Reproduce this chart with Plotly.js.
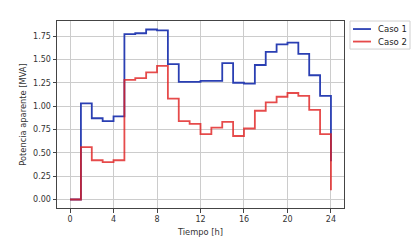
<!DOCTYPE html>
<html>
<head>
<meta charset="utf-8">
<script src="https://cdn.plot.ly/plotly-3.0.1.min.js"></script>
<style>html,body{margin:0;padding:0;background:#fff;}#chart{width:419px;height:250px;}</style>
</head>
<body>
<div id="chart"></div>
<script>
const horas = [0,1,2,3,4,5,6,7,8,9,10,11,12,13,14,15,16,17,18,19,20,21,22,23,24];
const caso1 = [0.00,1.03,0.87,0.84,0.89,1.77,1.78,1.82,1.81,1.45,1.26,1.26,1.27,1.27,1.46,1.25,1.24,1.44,1.58,1.66,1.68,1.56,1.33,1.11,0.41];
const caso2 = [0.00,0.56,0.42,0.40,0.42,1.28,1.30,1.36,1.43,1.08,0.84,0.81,0.70,0.77,0.83,0.68,0.76,0.95,1.04,1.10,1.14,1.11,0.96,0.70,0.10];
const seriesNames = ['Caso 1', 'Caso 2'];
const xTicks = [0,4,8,12,16,20,24];
const yTicks = [0,0.25,0.5,0.75,1.0,1.25,1.5,1.75];
const yTickText = ["0.00","0.25","0.50","0.75","1.00","1.25","1.50","1.75"];

const colors = ['#2a3fb3', '#e01e1e'];
const opac = [1, 0.8];
const traces = [
  {x: horas, y: caso1, name: seriesNames[0], mode: 'lines', opacity: opac[0], line: {shape: 'hv', color: colors[0], width: 1.8}},
  {x: horas, y: caso2, name: seriesNames[1], mode: 'lines', opacity: opac[1], line: {shape: 'hv', color: colors[1], width: 1.8}}
];
const fam = 'DejaVu Sans, sans-serif';
// manual legend (paper coords)
const legY = [0.957, 0.890];
const shapes = [
  {type: 'rect', xref: 'paper', yref: 'paper', x0: 1.0209, x1: 1.23, y0: 0.850, y1: 1.0, line: {color: '#d0d0d0', width: 1}, fillcolor: '#fff', layer: 'above'}
];
const annotations = [];
seriesNames.forEach((n, i) => {
  shapes.push({type: 'line', xref: 'paper', yref: 'paper', x0: 1.0314, x1: 1.094, y0: legY[i], y1: legY[i], opacity: opac[i], line: {color: colors[i], width: 1.8}});
  annotations.push({xref: 'paper', yref: 'paper', x: 1.1115, y: legY[i], xanchor: 'left', yanchor: 'middle', text: n, showarrow: false, font: {family: fam, size: 8.5, color: '#222'}});
});
const layout = {
  width: 419, height: 250,
  margin: {l: 57, r: 75, t: 21, b: 42},
  paper_bgcolor: '#fff', plot_bgcolor: '#fff',
  font: {family: fam, size: 8, color: '#333'},
  showlegend: false,
  shapes: shapes,
  annotations: annotations,
  xaxis: {
    range: [-1.2, 25.2], tickmode: 'array', tickvals: xTicks,
    tickfont: {family: fam, size: 8, color: '#333'},
    showgrid: true, gridcolor: '#cccccc', gridwidth: 1,
    showline: true, mirror: true, linecolor: '#444', linewidth: 1,
    ticks: 'outside', ticklen: 3.5, tickcolor: '#444', zeroline: false,
    title: {text: 'Tiempo [h]', font: {family: fam, size: 8.3, color: '#333'}, standoff: 6}
  },
  yaxis: {
    range: [-0.091, 1.911], tickmode: 'array', tickvals: yTicks, ticktext: yTickText,
    tickfont: {family: fam, size: 8, color: '#333'},
    showgrid: true, gridcolor: '#cccccc', gridwidth: 1,
    showline: true, mirror: true, linecolor: '#444', linewidth: 1,
    ticks: 'outside', ticklen: 3.5, tickcolor: '#444', zeroline: false,
    title: {text: 'Potencia aparente [MVA]', font: {family: fam, size: 8.3, color: '#333'}, standoff: 5}
  }
};
Plotly.newPlot('chart', traces, layout, {displayModeBar: false, staticPlot: true});
</script>
</body>
</html>
